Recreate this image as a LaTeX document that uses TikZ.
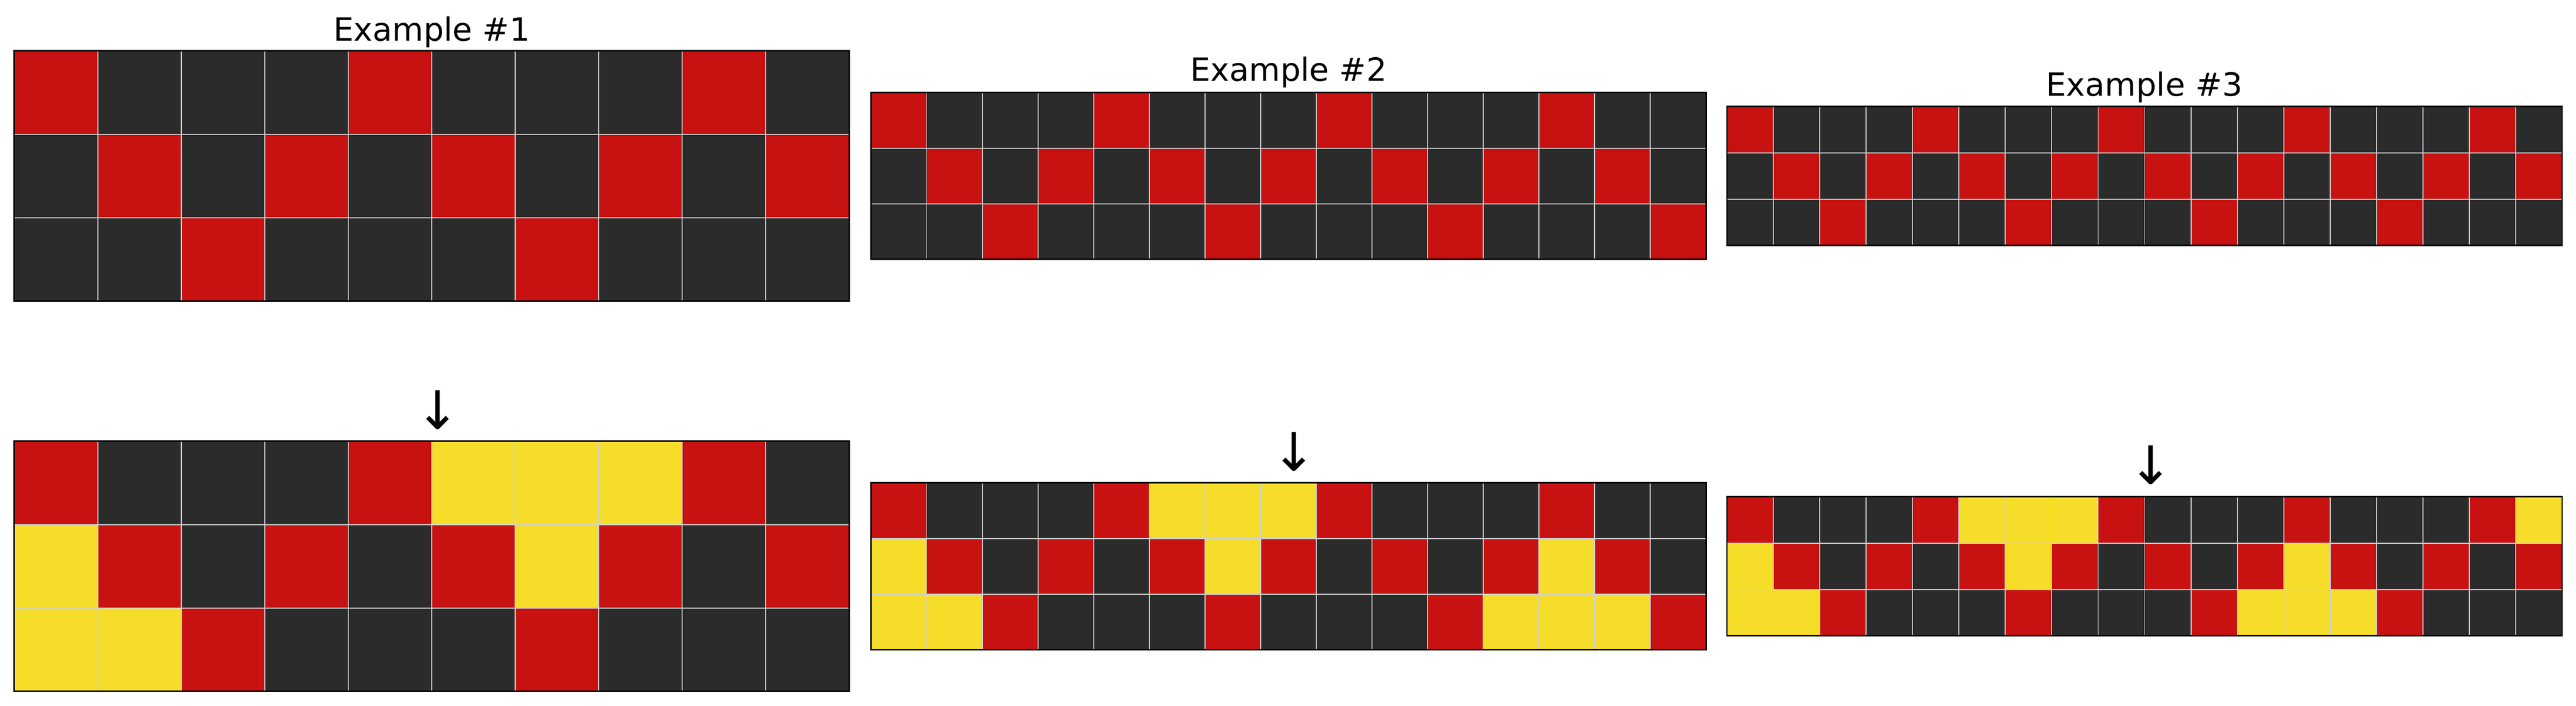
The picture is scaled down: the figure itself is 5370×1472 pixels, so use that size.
\documentclass[tikz,border=0pt]{standalone}
\usepackage{fontspec}
\setmainfont{DejaVu Sans}
\definecolor{cellR}{HTML}{C81111}
\definecolor{cellK}{HTML}{2B2B2B}
\definecolor{cellY}{HTML}{F5DD2A}
\definecolor{gridgray}{HTML}{D0D0D0}

% centre x, centre y, columns, rows of cells
\newcommand{\cellgrid}[4]{%
  \pgfmathsetmacro{\cellsz}{1741/#3}
  \pgfmathsetmacro{\gx}{#1-870.5}
  \pgfmathsetmacro{\gy}{#2-1.5*\cellsz}
  \foreach \row [count=\r] in {#4} {
    \foreach \c [count=\i] in \row
      \fill[fill=cell\c, draw=gridgray, line width=0.57pt] ({\gx+(\i-1)*\cellsz},{\gy+(\r-1)*\cellsz}) rectangle ++(\cellsz,\cellsz);
  }
  \draw[line width=0.85pt] (\gx,\gy) rectangle ++(1741,{3*\cellsz});
}

\begin{document}
\begin{tikzpicture}[x=0.01cm, y=-0.01cm,
    gridtitle/.style = {font=\fontsize{19}{23}\selectfont, inner sep=0, anchor=base},
    arrowsym/.style = {font=\fontsize{31.5}{38}\selectfont, inner sep=0, anchor=south}]
		\useasboundingbox (0,0) rectangle (5370,1472);
		% example 1
		\cellgrid{900}{367}{10}{{R,K,K,K,R,K,K,K,R,K},{K,R,K,R,K,R,K,R,K,R},{K,K,R,K,K,K,R,K,K,K}}
		\cellgrid{900}{1181}{10}{{R,K,K,K,R,Y,Y,Y,R,K},{Y,R,K,R,K,R,Y,R,K,R},{Y,Y,R,K,K,K,R,K,K,K}}
		\node[gridtitle] (title1) at (900,85) {Example \#1};
		\node[arrowsym] (arrow1) at (913,896) {↓};
		% example 2
		\cellgrid{2686}{367}{15}{{R,K,K,K,R,K,K,K,R,K,K,K,R,K,K},{K,R,K,R,K,R,K,R,K,R,K,R,K,R,K},{K,K,R,K,K,K,R,K,K,K,R,K,K,K,R}}
		\cellgrid{2686}{1181}{15}{{R,K,K,K,R,Y,Y,Y,R,K,K,K,R,K,K},{Y,R,K,R,K,R,Y,R,K,R,K,R,Y,R,K},{Y,Y,R,K,K,K,R,K,K,K,R,Y,Y,Y,R}}
		\node[gridtitle] (title2) at (2686,169) {Example \#2};
		\node[arrowsym] (arrow2) at (2698,983) {↓};
		% example 3
		\cellgrid{4470.5}{367}{18}{{R,K,K,K,R,K,K,K,R,K,K,K,R,K,K,K,R,K},{K,R,K,R,K,R,K,R,K,R,K,R,K,R,K,R,K,R},{K,K,R,K,K,K,R,K,K,K,R,K,K,K,R,K,K,K}}
		\cellgrid{4470.5}{1181}{18}{{R,K,K,K,R,Y,Y,Y,R,K,K,K,R,K,K,K,R,Y},{Y,R,K,R,K,R,Y,R,K,R,K,R,Y,R,K,R,K,R},{Y,Y,R,K,K,K,R,K,K,K,R,Y,Y,Y,R,K,K,K}}
		\node[gridtitle] (title3) at (4470,200) {Example \#3};
		\node[arrowsym] (arrow3) at (4484,1011) {↓};
	\end{tikzpicture}
\end{document}
